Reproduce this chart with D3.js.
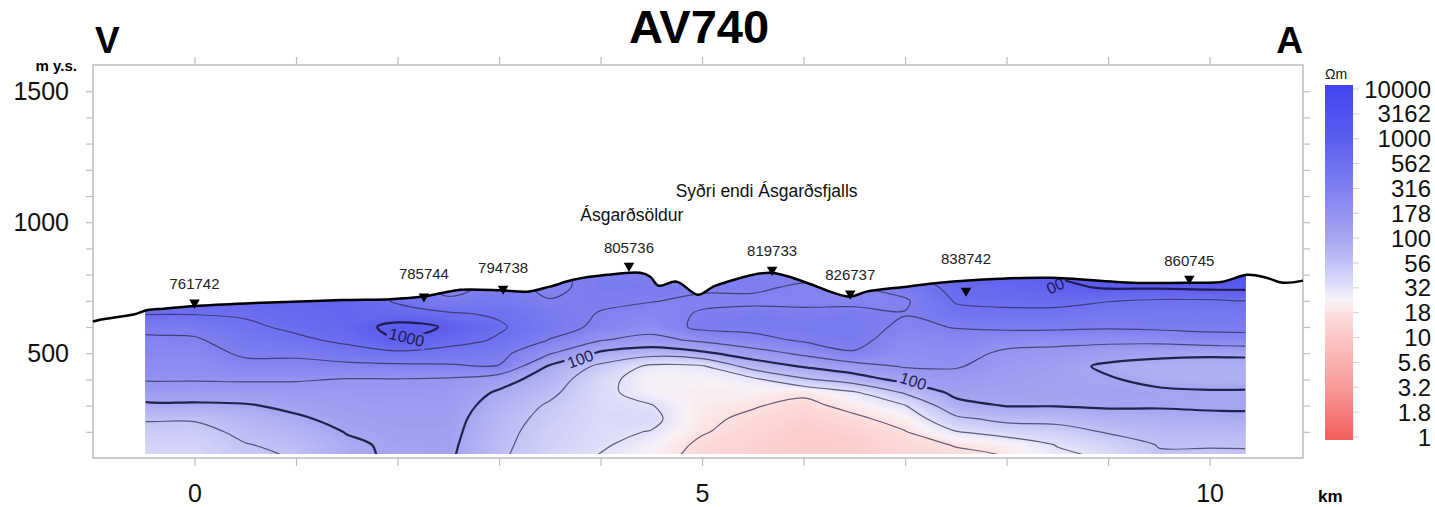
<!DOCTYPE html>
<html>
<head>
<meta charset="utf-8">
<script src="https://cdn.jsdelivr.net/npm/d3@7"></script>
<style>
  body { margin: 0; background: #fff; }
  svg { display: block; font-family: "Liberation Sans", Arial, sans-serif; }
</style>
</head>
<body>
<svg id="chart" width="1435" height="507"></svg>
<script>
const width = 1435;
const height = 507;

// resistivity section grid: columns along the profile (km), rows by elevation (m y.s.)
const gridKm = [-0.5, 0, 0.5, 1, 1.5, 2, 2.5, 3, 3.5, 4, 4.5, 5, 5.5, 6, 6.5, 7, 7.5, 8, 8.5, 9, 9.5, 10, 10.5];
const gridElev = [850, 800, 750, 700, 650, 600, 550, 500, 450, 400, 350, 300, 250, 200, 150, 100];
// log10 of resistivity (Ohm-m), one row per gridElev
const logRho = [
  [2.85, 2.85, 2.85, 2.9, 2.92, 2.7, 2.4, 2.6, 2.45, 2.55, 2.55, 2.52, 2.52, 2.55, 2.58, 2.75, 2.95, 2.98, 3.1, 3.3, 3.35, 3.4, 3.4],
  [2.85, 2.85, 2.85, 2.9, 2.92, 2.7, 2.4, 2.6, 2.45, 2.56, 2.55, 2.52, 2.51, 2.55, 2.58, 2.7, 2.9, 2.95, 3.02, 3.2, 3.25, 3.3, 3.3],
  [2.85, 2.83, 2.85, 2.9, 2.92, 2.7, 2.4, 2.6, 2.45, 2.57, 2.56, 2.53, 2.53, 2.47, 2.48, 2.6, 2.82, 2.88, 2.95, 3.02, 3.02, 3.05, 3.05],
  [2.82, 2.8, 2.85, 2.9, 2.92, 2.72, 2.55, 2.62, 2.51, 2.53, 2.51, 2.46, 2.46, 2.45, 2.45, 2.47, 2.77, 2.8, 2.82, 2.76, 2.72, 2.72, 2.72],
  [2.76, 2.76, 2.78, 2.84, 2.9, 2.85, 2.78, 2.72, 2.58, 2.49, 2.42, 2.52, 2.56, 2.55, 2.56, 2.51, 2.68, 2.7, 2.68, 2.62, 2.62, 2.63, 2.63],
  [2.56, 2.58, 2.7, 2.8, 2.88, 3.08, 2.98, 2.78, 2.6, 2.45, 2.35, 2.56, 2.57, 2.58, 2.6, 2.45, 2.51, 2.55, 2.55, 2.53, 2.55, 2.56, 2.56],
  [2.45, 2.47, 2.62, 2.7, 2.8, 2.99, 2.85, 2.72, 2.49, 2.26, 2.17, 2.3, 2.42, 2.53, 2.57, 2.38, 2.42, 2.35, 2.33, 2.32, 2.33, 2.4, 2.4],
  [2.4, 2.4, 2.54, 2.55, 2.65, 2.7, 2.65, 2.58, 2.27, 1.96, 1.85, 1.95, 2.14, 2.3, 2.48, 2.3, 2.35, 2.2, 2.17, 2.1, 2.05, 2.03, 2.03],
  [2.33, 2.33, 2.43, 2.42, 2.43, 2.45, 2.47, 2.49, 1.97, 1.7, 1.45, 1.47, 1.85, 2.02, 2.15, 2.27, 2.27, 2.15, 2.08, 1.96, 1.93, 1.93, 1.93],
  [2.27, 2.27, 2.28, 2.27, 2.24, 2.24, 2.22, 2.1, 1.88, 1.58, 1.38, 1.38, 1.45, 1.72, 1.88, 2.08, 2.15, 2.1, 2.05, 2.02, 1.94, 1.92, 1.92],
  [2.12, 2.12, 2.12, 2.15, 2.16, 2.17, 2.16, 1.97, 1.8, 1.56, 1.4, 1.34, 1.35, 1.3, 1.47, 1.78, 2.06, 2.05, 2.04, 2.06, 2.04, 2.02, 2.02],
  [1.95, 1.96, 1.98, 2.05, 2.1, 2.13, 2.12, 1.9, 1.72, 1.56, 1.51, 1.32, 1.27, 1.18, 1.33, 1.49, 1.92, 2.01, 2.01, 2.03, 2.02, 2.03, 2.03],
  [1.77, 1.77, 1.86, 1.97, 2.06, 2.1, 2.09, 1.85, 1.68, 1.56, 1.56, 1.3, 1.2, 1.12, 1.2, 1.35, 1.7, 1.82, 1.83, 1.9, 1.93, 1.95, 1.95],
  [1.68, 1.68, 1.8, 1.88, 2.01, 2.07, 2.07, 1.82, 1.65, 1.55, 1.49, 1.27, 1.15, 1.08, 1.12, 1.24, 1.49, 1.6, 1.65, 1.77, 1.83, 1.84, 1.84],
  [1.62, 1.62, 1.74, 1.8, 1.96, 2.04, 2.05, 1.8, 1.63, 1.53, 1.4, 1.2, 1.12, 1.06, 1.08, 1.18, 1.26, 1.35, 1.51, 1.62, 1.76, 1.76, 1.76],
  [1.58, 1.58, 1.7, 1.76, 1.95, 2.03, 2.03, 1.78, 1.6, 1.48, 1.35, 1.15, 1.1, 1.05, 1.06, 1.15, 1.2, 1.25, 1.45, 1.52, 1.72, 1.72, 1.72]
];

// ground surface along the profile
const surfKm = [-1.0, -0.92, -0.6, -0.46, -0.3, 0, 0.5, 1.04, 1.5, 1.93, 2.25, 2.45, 2.62, 3.01, 3.28, 3.5, 3.73, 4.06, 4.39, 4.49, 4.57, 4.75, 4.96, 5.11, 5.25, 5.67, 6.03, 6.29, 6.46, 6.62, 7.02, 7.34, 7.93, 8.43, 9.24, 9.8, 10.13, 10.37, 10.56, 10.72, 10.92];
const surfElev = [621, 629, 648, 665, 670, 680, 690, 697, 703, 706, 716, 731, 742, 740, 735, 754, 780, 799, 807, 792, 758, 773, 723, 754, 773, 807, 769, 731, 716, 735, 754, 769, 784, 788, 769, 769, 773, 799, 788, 769, 777];

// TEM stations
const stationNames = ['761742', '785744', '794738', '805736', '819733', '826737', '838742', '860745'];
const stationKm = [0, 2.26, 3.04, 4.28, 5.69, 6.46, 7.6, 9.8];
const stationElev = [678, 701, 731, 818, 803, 712, 723, 769];

// place names
const placeNames = ['Ásgarðsöldur', 'Syðri endi Ásgarðsfjalls'];
const placeKm = [3.8, 4.74];
const placeElev = [1005, 1096];

// colour legend
const legendLabels = ['10000', '3162', '1000', '562', '316', '178', '100', '56', '32', '18', '10', '5.6', '3.2', '1.8', '1'];
const stopIdx = [0, 2, 4, 6, 7, 8, 8.5, 9, 10, 12, 14];
const stopColour = ['#4545ee', '#5d5def', '#8080f0', '#a6a6f2', '#c2c2f6', '#e2e2fa', '#f7f2f6', '#fde0e0', '#fcc6c6', '#f89a9a', '#f46060'];

const lineLevels = [1, 1.25, 1.5, 1.75, 2, 2.25, 2.5, 2.75, 3];
const sectionKm = [-0.48, 10.35];
const sectionBottom = 115;

const x = d3.scaleLinear().domain([-1, 10.92]).range([93, 1303]);
const y = d3.scaleLinear().domain([100, 1600]).range([458, 65]);
const logToIdx = d3.scaleLinear().domain([4, 3, 0]).range([0, 2, 14]);
const idxColour = d3.scaleLinear().domain(stopIdx).range(stopColour).clamp(true);
const rhoColour = l => idxColour(logToIdx(l));
const surfaceAt = d3.scaleLinear().domain(surfKm).range(surfElev);

const svg = d3.select('#chart');
const defs = svg.append('defs');

// grid coords from d3.contours -> km / elevation
const nx = gridKm.length, ny = gridElev.length;
const dKm = gridKm[1] - gridKm[0];
const dElev = gridElev[0] - gridElev[1];
const gxKm = g => gridKm[0] + (g - 0.5) * dKm;
const gyElev = g => gridElev[0] - (g - 0.5) * dElev;
const values = logRho.flat();

const ringLine = d3.line()
    .x(p => x(gxKm(p[0])))
    .y(p => y(gyElev(p[1])))
    .curve(d3.curveCatmullRomClosed.alpha(0.5));
const toPath = geom => geom.coordinates
    .map(poly => poly.map(r => ringLine(r.slice(0, -1))).join(''))
    .join('');

const surfPts = surfKm.map((k, i) => [k, surfElev[i]]);
const groundLine = d3.line().x(d => x(d[0])).y(d => y(d[1])).curve(d3.curveCatmullRom.alpha(0.5));
const groundArea = d3.area().x(d => x(d[0])).y0(y(sectionBottom)).y1(d => y(d[1])).curve(d3.curveCatmullRom.alpha(0.5));

defs.append('clipPath').attr('id', 'clip-x')
  .append('rect')
    .attr('x', x(sectionKm[0]))
    .attr('y', 0)
    .attr('width', x(sectionKm[1]) - x(sectionKm[0]))
    .attr('height', height);
defs.append('clipPath').attr('id', 'clip-ground')
  .append('path')
    .attr('d', groundArea(surfPts));

// contour labels (annotations)
const contourLabels = [
  {text: '1000', km: 2.09, elev: 560, angle: 14},
  {text: '100', km: 3.8, elev: 478, angle: -20},
  {text: '100', km: 7.08, elev: 394, angle: 18},
  {text: '00', km: 8.48, elev: 757, angle: -25}
];
contourLabels.forEach(d => { d.w = d.text.length * 9 + 4; });

const mask = defs.append('mask').attr('id', 'label-gaps')
    .attr('maskUnits', 'userSpaceOnUse')
    .attr('x', 0).attr('y', 0).attr('width', width).attr('height', height);
mask.append('rect').attr('width', width).attr('height', height).attr('fill', 'white');
mask.selectAll('rect.gap').data(contourLabels).join('rect')
    .attr('class', 'gap')
    .attr('x', d => -d.w / 2).attr('y', -8)
    .attr('width', d => d.w).attr('height', 16)
    .attr('fill', 'black')
    .attr('transform', d => `translate(${x(d.km)},${y(d.elev)}) rotate(${d.angle})`);

// frame
svg.append('rect')
    .attr('x', x(-1)).attr('y', y(1600))
    .attr('width', x(10.92) - x(-1)).attr('height', y(100) - y(1600))
    .attr('fill', 'none').attr('stroke', '#bdbdbd').attr('stroke-width', 1.5);

// section fill + contours
const outer = svg.append('g').attr('clip-path', 'url(#clip-x)');
const section = outer.append('g').attr('clip-path', 'url(#clip-ground)');

const bandStep = 0.02;
const bandLevels = d3.range(0.9, 3.6, bandStep);
const bands = d3.contours().size([nx, ny]).thresholds(bandLevels)(values);
section.append('g')
  .selectAll('path')
  .data(bands)
  .join('path')
    .attr('d', toPath)
    .attr('fill', d => rhoColour(d.value + bandStep / 2))
    .attr('fill-rule', 'evenodd');

const lines = d3.contours().size([nx, ny]).thresholds(lineLevels)(values);
const isMajor = v => Math.abs(v - Math.round(v)) < 1e-6;
section.append('g')
    .attr('mask', 'url(#label-gaps)')
  .selectAll('path')
  .data(lines)
  .join('path')
    .attr('d', toPath)
    .attr('fill', 'none')
    .attr('stroke', d => isMajor(d.value) ? '#1a1a44' : '#2a2a50')
    .attr('stroke-opacity', d => isMajor(d.value) ? 0.95 : 0.72)
    .attr('stroke-width', d => isMajor(d.value) ? 2.2 : 1.2)
    .attr('stroke-linejoin', 'round');

section.append('g')
  .selectAll('text')
  .data(contourLabels)
  .join('text')
    .attr('transform', d => `translate(${x(d.km)},${y(d.elev)}) rotate(${d.angle})`)
    .attr('text-anchor', 'middle')
    .attr('dy', '0.35em')
    .attr('font-size', 16)
    .attr('fill', '#1a1a50')
    .text(d => d.text);

// ground surface
svg.append('path')
    .attr('d', groundLine(surfPts))
    .attr('fill', 'none')
    .attr('stroke', '#000')
    .attr('stroke-width', 2.5)
    .attr('stroke-linejoin', 'round');

// stations
const tri = d3.symbol().type(d3.symbolTriangle).size(48);
svg.append('g')
  .selectAll('path')
  .data(stationNames)
  .join('path')
    .attr('d', tri)
    .attr('transform', (d, i) => `translate(${x(stationKm[i])},${y(stationElev[i]) - 4}) rotate(180)`)
    .attr('fill', '#000');

svg.append('g')
  .selectAll('text')
  .data(stationNames)
  .join('text')
    .attr('x', (d, i) => x(stationKm[i]))
    .attr('y', (d, i) => Math.min(y(stationElev[i]), y(surfaceAt(stationKm[i]))) - 17)
    .attr('text-anchor', 'middle')
    .attr('font-size', 15)
    .attr('fill', '#222')
    .text(d => d);

svg.append('g')
  .selectAll('text')
  .data(placeNames)
  .join('text')
    .attr('x', (d, i) => x(placeKm[i]))
    .attr('y', (d, i) => y(placeElev[i]))
    .attr('font-size', 17.5)
    .attr('fill', '#111')
    .text(d => d);

// axes
const tickStyle = g => {
  g.select('.domain').remove();
  g.selectAll('.tick line').attr('stroke', '#bdbdbd').attr('stroke-width', 1.2);
  g.selectAll('.tick text').attr('font-size', 25).attr('fill', '#111')
      .attr('font-family', '"Liberation Sans", Arial, sans-serif');
};
const kmTicks = d3.range(0, 11);
const elevTicks = d3.range(200, 1600, 100);

svg.append('g')
    .attr('transform', `translate(0,${y(100)})`)
    .call(d3.axisBottom(x).tickValues(kmTicks).tickSize(8).tickPadding(18)
      .tickFormat(d => d % 5 === 0 ? d : ''))
    .call(tickStyle);
svg.append('g')
    .attr('transform', `translate(0,${y(1600)})`)
    .call(d3.axisTop(x).tickValues(kmTicks).tickSize(8).tickFormat(''))
    .call(tickStyle);
svg.append('g')
    .attr('transform', `translate(${x(-1)},0)`)
    .call(d3.axisLeft(y).tickValues(elevTicks).tickSize(7).tickPadding(17)
      .tickFormat(d => d % 500 === 0 ? d : ''))
    .call(tickStyle);
svg.append('g')
    .attr('transform', `translate(${x(10.92)},0)`)
    .call(d3.axisRight(y).tickValues(elevTicks).tickSize(7).tickFormat(''))
    .call(tickStyle);

// titles
svg.append('text')
    .attr('x', 699).attr('y', 43)
    .attr('text-anchor', 'middle')
    .attr('font-size', 47).attr('font-weight', 'bold')
    .text('AV740');
svg.append('text')
    .attr('x', 95).attr('y', 53)
    .attr('font-size', 37).attr('font-weight', 'bold')
    .text('V');
svg.append('text')
    .attr('x', 1303).attr('y', 53)
    .attr('text-anchor', 'end')
    .attr('font-size', 37).attr('font-weight', 'bold')
    .text('A');
svg.append('text')
    .attr('x', 77).attr('y', 71)
    .attr('text-anchor', 'end')
    .attr('font-size', 15).attr('font-weight', 'bold')
    .text('m y.s.');
svg.append('text')
    .attr('x', 1318).attr('y', 502)
    .attr('font-size', 17).attr('font-weight', 'bold')
    .text('km');

// colour legend
const legendY = d3.scaleLinear().domain([0, 14]).range([89, 437]);
const barX = 1325, barW = 28, barTop = 85, barBottom = 440;
const grad = defs.append('linearGradient').attr('id', 'rho-grad')
    .attr('gradientUnits', 'userSpaceOnUse')
    .attr('x1', 0).attr('x2', 0)
    .attr('y1', legendY(0)).attr('y2', legendY(14));
grad.selectAll('stop').data(stopIdx).join('stop')
    .attr('offset', d => (legendY(d) - legendY(0)) / (legendY(14) - legendY(0)))
    .attr('stop-color', d => idxColour(d));

svg.append('rect')
    .attr('x', barX).attr('y', barTop)
    .attr('width', barW).attr('height', barBottom - barTop)
    .attr('fill', 'url(#rho-grad)');

svg.append('g')
  .selectAll('line')
  .data(legendLabels)
  .join('line')
    .attr('x1', barX + barW).attr('x2', barX + barW + 6)
    .attr('y1', (d, i) => legendY(i)).attr('y2', (d, i) => legendY(i))
    .attr('stroke', '#d0d0d0');

svg.append('g')
  .selectAll('text')
  .data(legendLabels)
  .join('text')
    .attr('x', 1431)
    .attr('y', (d, i) => legendY(i))
    .attr('dy', '0.36em')
    .attr('text-anchor', 'end')
    .attr('font-size', 24)
    .attr('fill', '#111')
    .text(d => d);

svg.append('text')
    .attr('x', 1325).attr('y', 79)
    .attr('font-size', 14)
    .attr('fill', '#111')
    .text('Ωm');
</script>
</body>
</html>
